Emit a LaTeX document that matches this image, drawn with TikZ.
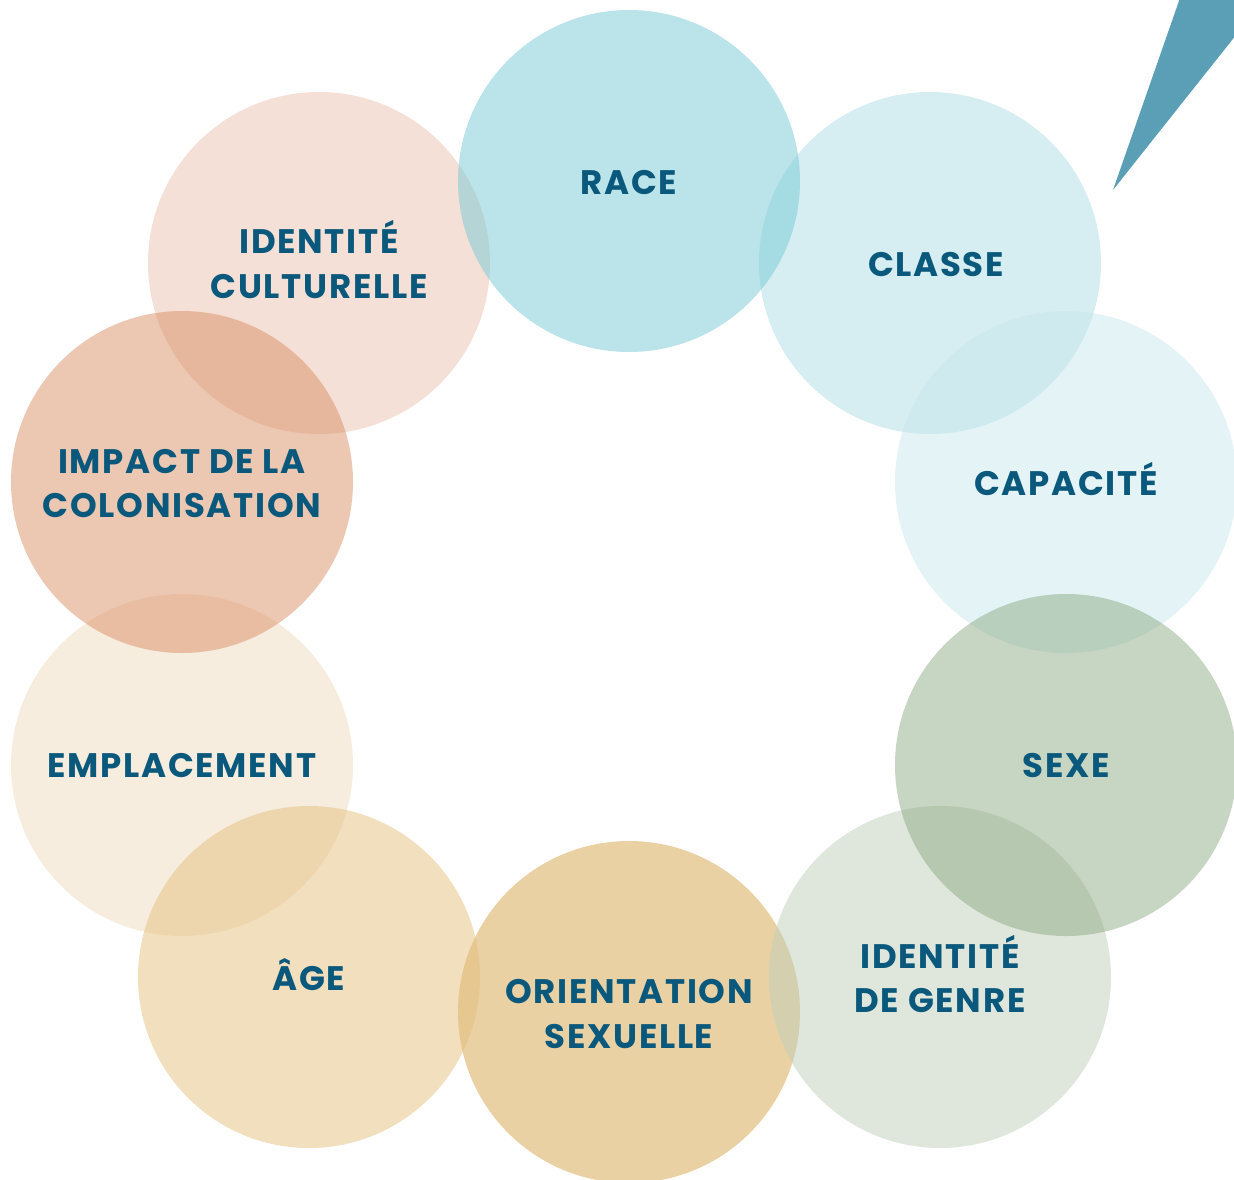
\documentclass[tikz,border=0pt]{standalone}
\usepackage{fontspec}
\newfontfamily\labelfont{Poppins}[LetterSpace=5]
% circle colours (drawn at half opacity on white)
\definecolor{cRace}{RGB}{117,201,211}
\definecolor{cClasse}{RGB}{173,221,227}
\definecolor{cCapacite}{RGB}{201,231,237}
\definecolor{cSexe}{RGB}{143,171,135}
\definecolor{cGenre}{RGB}{191,205,185}
\definecolor{cOrient}{RGB}{213,163,73}
\definecolor{cAge}{RGB}{227,191,125}
\definecolor{cEmpl}{RGB}{239,219,189}
\definecolor{cImpact}{RGB}{217,143,101}
\definecolor{cCult}{RGB}{235,193,175}
\definecolor{txtblue}{RGB}{10,89,124}
\definecolor{wedge}{RGB}{90,159,182}
\tikzset{
  bubble/.style={fill=#1, fill opacity=0.5, draw=none},
  lbl/.style={text=txtblue, anchor=base, inner sep=0pt,
    font=\labelfont\bfseries\fontsize{34}{40}\selectfont},
}
\begin{document}
\begin{tikzpicture}[x=1pt,y=-1pt]
\useasboundingbox (0,0) rectangle (1234,1179);
\begin{scope}
\clip (0,0) rectangle (1234,1179);
% pointer wedge in the upper right corner
\fill[wedge] (1113,190) -- (1180,-2) -- (1240,-2) -- (1240,30) -- cycle;
% bubbles, bottom layer first
\fill[bubble=cCult]     (319,263)  circle (171);
\fill[bubble=cClasse]   (930,263)  circle (171);
\fill[bubble=cRace]     (629,181)  circle (171);
\fill[bubble=cCapacite] (1066,482) circle (171);
\fill[bubble=cOrient]   (629,1012) circle (171);
\fill[bubble=cGenre]    (940,977)  circle (171);
\fill[bubble=cSexe]     (1066,765) circle (171);
\fill[bubble=cEmpl]     (182,765)  circle (171);
\fill[bubble=cAge]      (309,977)  circle (171);
\fill[bubble=cImpact]   (182,482)  circle (171);
\end{scope}
% labels
\node[lbl] (race) at (629,194) {RACE};
\node[lbl] (classe) at (936,276) {CLASSE};
\node[lbl] (capacite) at (1066,495) {CAPACITÉ};
\node[lbl] (sexe) at (1066,777) {SEXE};
\node[lbl] (genreA) at (940,968) {IDENTITÉ};
\node[lbl] (genreB) at (940,1012) {DE GENRE};
\node[lbl] (orientA) at (629,1003) {ORIENTATION};
\node[lbl] (orientB) at (629,1048) {SEXUELLE};
\node[lbl] (age) at (309,990) {ÂGE};
\node[lbl] (empl) at (182,777) {EMPLACEMENT};
\node[lbl] (impactA) at (182,473) {IMPACT DE LA};
\node[lbl] (impactB) at (182,517) {COLONISATION};
\node[lbl] (cultA) at (319,253) {IDENTITÉ};
\node[lbl] (cultB) at (319,298) {CULTURELLE};
\end{tikzpicture}
\end{document}
